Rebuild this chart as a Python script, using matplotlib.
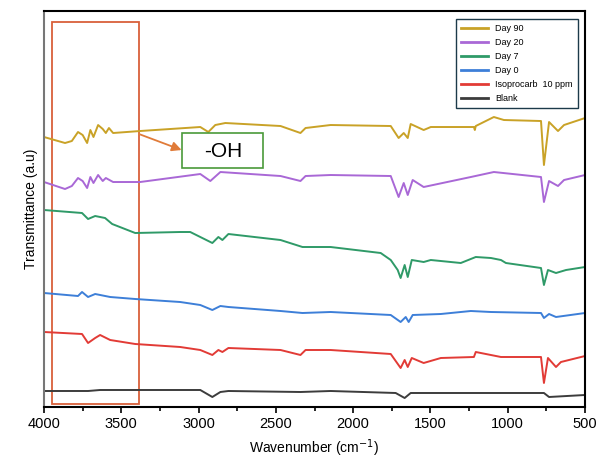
import numpy as np
import matplotlib
matplotlib.use('Agg')
import matplotlib.pyplot as plt
from matplotlib.patches import Rectangle

plt.rcParams['font.family'] = ['Liberation Sans', 'DejaVu Sans']

# valores (numero de onda cm-1, transmitancia en u.a. con desplazamiento)
wn_day90 = [4000, 3864, 3820, 3780, 3750, 3721, 3700, 3680, 3650, 3620, 3600, 3580, 3553, 3378,
            2989, 2937, 2892, 2827, 2470, 2341, 2308, 2146, 1757, 1706, 1673, 1647, 1628, 1544,
            1498, 1219, 1213, 1207, 1090, 1025, 785, 766, 733, 675, 636, 500]
t_day90 = [270, 264, 266, 275, 272, 264, 277, 270, 282, 278, 274, 279, 274, 276,
           280, 275, 282, 284, 281, 274, 279, 282, 281, 269, 274, 269, 283, 277,
           280, 280, 277, 281, 290, 287, 286, 242, 285, 276, 282, 289]

wn_day20 = [4000, 3864, 3820, 3780, 3750, 3721, 3700, 3680, 3650, 3620, 3600, 3553, 3378,
            2989, 2924, 2859, 2470, 2341, 2308, 2146, 1757, 1706, 1673, 1647, 1615, 1544,
            1239, 1090, 785, 766, 733, 675, 636, 500]
t_day20 = [225, 218, 221, 229, 226, 219, 230, 224, 232, 226, 229, 225, 225,
           233, 226, 235, 231, 226, 231, 232, 231, 210, 224, 212, 227, 220,
           230, 235, 230, 205, 226, 221, 227, 232]

wn_day7 = [4000, 3754, 3715, 3669, 3605, 3559, 3410, 3119, 3054, 2911, 2872, 2846, 2807, 2470,
           2328, 2146, 1822, 1757, 1712, 1693, 1667, 1647, 1621, 1544, 1498, 1304, 1207, 1109,
           1044, 1012, 785, 766, 740, 688, 623, 500]
t_day7 = [197, 194, 188, 191, 189, 183, 174, 175, 175, 164, 170, 167, 173, 167,
          160, 160, 154, 147, 137, 129, 142, 130, 147, 145, 147, 144, 150, 149,
          147, 144, 139, 122, 137, 134, 137, 140]

wn_day0 = [4000, 3780, 3754, 3715, 3669, 3572, 3410, 3119, 2989, 2911, 2859, 2807, 2470, 2328,
           2146, 1757, 1693, 1660, 1641, 1615, 1433, 1239, 1109, 785, 766, 733, 688, 500]
t_day0 = [114, 111, 115, 110, 113, 110, 108, 105, 102, 97, 101, 100, 96, 94,
          95, 92, 85, 90, 85, 92, 93, 96, 95, 94, 89, 93, 90, 94]

wn_iso = [4000, 3754, 3715, 3669, 3637, 3572, 3410, 3119, 2989, 2911, 2872, 2846, 2807, 2470,
          2341, 2308, 2146, 1757, 1693, 1667, 1647, 1621, 1544, 1433, 1219, 1207, 1044, 785,
          766, 740, 688, 656, 500]
t_iso = [75, 73, 64, 69, 72, 67, 63, 60, 57, 52, 57, 55, 59, 57,
         52, 57, 57, 53, 39, 47, 40, 49, 44, 49, 50, 55, 50, 50,
         24, 49, 40, 45, 51]

wn_blank = [4000, 3715, 3637, 2989, 2911, 2859, 2807, 2341, 2146, 1725, 1667, 1628, 766, 733, 500]
t_blank = [16, 16, 17, 17, 10, 15, 16, 15, 16, 14, 9, 14, 14, 10, 12]

series = [
    ('Day 90', wn_day90, t_day90, '#c9a227'),
    ('Day 20', wn_day20, t_day20, '#a968d6'),
    ('Day 7', wn_day7, t_day7, '#2f9a68'),
    ('Day 0', wn_day0, t_day0, '#3d7fd8'),
    ('Isoprocarb  10 ppm', wn_iso, t_iso, '#e23b36'),
    ('Blank', wn_blank, t_blank, '#3c3c3c'),
]

fig = plt.figure(figsize=(5.97, 4.59), dpi=100)
ax = fig.add_axes([0.0737, 0.1133, 0.9063, 0.8627])

for name, x, y, c in series:
    ax.plot(x, y, color=c, lw=1.4, label=name)

ax.set_xlim(4000, 500)
ax.set_ylim(0, 396)
ax.set_xticks(np.arange(4000, 499, -500))
ax.set_xticks(np.arange(3750, 500, -500), minor=True)
ax.set_yticks([])
ax.tick_params(axis='x', direction='out', labelsize=10.5, length=4, width=1.2)
ax.tick_params(axis='x', which='minor', direction='out', length=3, width=1.2)
for s in ax.spines.values():
    s.set_linewidth(1.5)
ax.spines['left'].set_color('#777777')

ax.set_xlabel('Wavenumber (cm$^{-1}$)', fontsize=10)
ax.set_ylabel('Transmittance (a.u)', fontsize=10)

# recuadro de la region -OH
ax.add_patch(Rectangle((3947, 3), 3386 - 3947, 382, fill=False, edgecolor='#d9603a', lw=1.3))
ax.annotate('', xy=(3110, 257), xytext=(3386, 273),
            arrowprops=dict(arrowstyle='-|>', color='#e07b39', lw=1.3, mutation_scale=14,
                            shrinkA=0, shrinkB=0))
ax.add_patch(Rectangle((3106, 239), 2581 - 3106, 35, fill=True, facecolor='white',
                       edgecolor='#4a9a3a', lw=1.2, zorder=3))
ax.text(2843, 256, '-OH', fontsize=15, ha='center', va='center', zorder=4)

leg = ax.legend(loc='upper right', bbox_to_anchor=(0.996, 0.992), fontsize=6.5,
                frameon=True, fancybox=False, edgecolor='#1c3a4a', framealpha=1,
                handlelength=3, labelspacing=0.55, borderpad=0.6)
leg.get_frame().set_linewidth(1.0)
for h in leg.get_lines():
    h.set_linewidth(2)

fig.savefig('out.png', dpi=100)
